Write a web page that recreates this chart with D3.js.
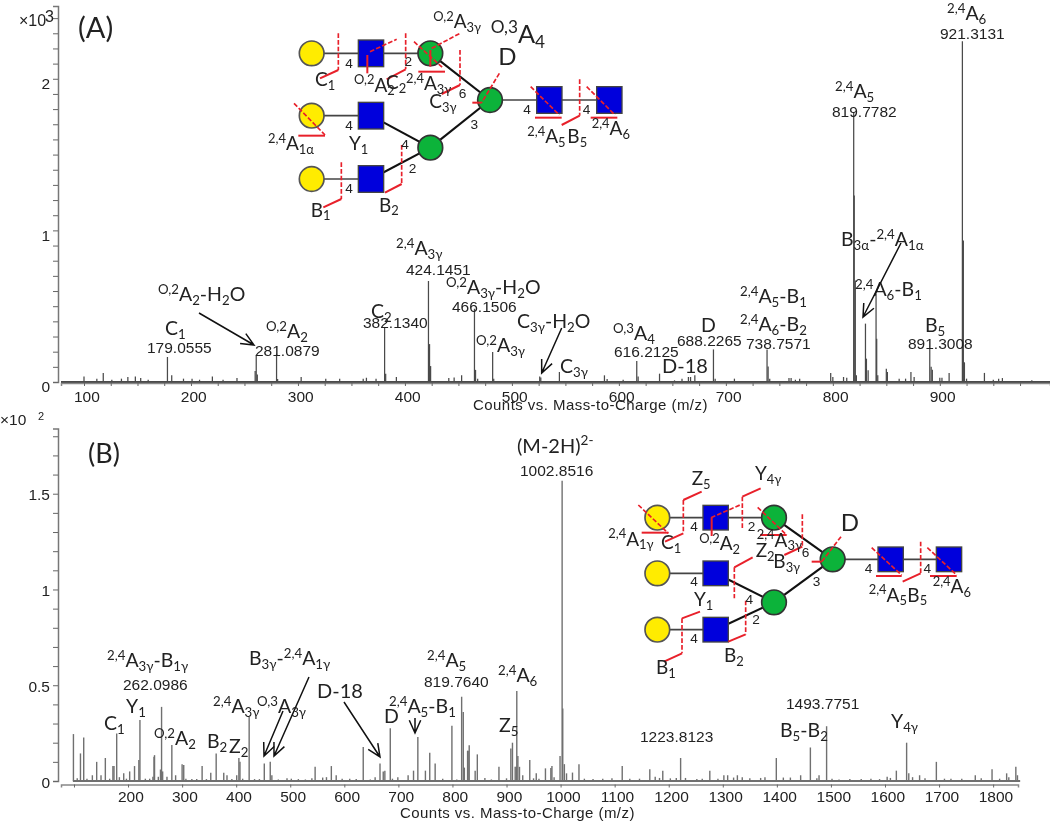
<!DOCTYPE html>
<html><head><meta charset="utf-8">
<script src="https://cdn.jsdelivr.net/npm/d3@7/dist/d3.min.js"></script>
<style>
html,body{margin:0;padding:0;background:#fff;}
svg{display:block;filter:blur(0.55px);}
text{font-family:"Liberation Sans",Arial,sans-serif;fill:#222;}
</style></head><body>
<svg id="c" width="1050" height="822"></svg>
<script>
// ---------- Panel A data: [m/z, counts x10^3] ----------
const peaksA = [[100,.037],[112,.022],[118,.06],[126,.015],[135,.022],[141,.033],[148,.037],[153,.026],[160,.015],
[178,.165],[182,.044],[193,.022],[201,.022],[208,.015],[220,.037],[230,.015],[243,.026],
[260,.072],[261,.176],[262,.05],[280,.187],[281,.02],[303,.033],[326,.022],[339,.022],[361,.022],[364,.028],
[373,.022],[381,.363],[382,.055],[392,.033],[422,.666],[423,.25],[424,.105],[441,.026],[446,.03],[453,.044],
[465,.483],[466,.08],[468,.022],[482,.198],[483,.022],[526,.037],[527,.03],[544.4,.066],[586.5,.044],[589,.02],[604,.015],
[616.7,.138],[618,.037],[638,.055],[652,.011],[659,.022],[665,.033],[667,.033],[671,.044],[688.4,.215],[690,.022],[708,.022],
[738.5,.215],[739.5,.103],[741,.022],[759,.026],[761,.026],[765,.015],[769,.022],[798,.06],[800,.033],[810,.033],[813,.028],
[819.5,1.774],[820,1.23],[821,.67],[822,.044],[830.5,.385],[831.4,.154],[833,.077],[840.4,.582],[841,.286],[842,.044],
[850,.088],[851,.066],[862,.022],[868,.022],[873,.066],[876,.033],[890.6,.22],[891.9,.1],[893,.08],[900,.028],[902,.028],
[908.7,.06],[921.1,2.248],[922,.934],[923,.13],[925,.022],[941.7,.06],[950,.015],[955,.022],[958.5,.026],[986,.011]];
const yTicksA = d3.range(0,2.41,0.1).map(v=>+v.toFixed(1));
const yLabelsA = [0,1,2];
const xTicksA = d3.range(100,976,25);
const xLabelsA = [100,200,300,400,500,600,700,800,900];

// ---------- Panel B data: [m/z, counts x10^2] ----------
const peaksB = [[99,.245],[106,.014],[112,.144],[118,.227],[124,.012],[134,.03],[142,.10],[150,.03],[158,.12],[166,.012],
[172,.078],[174,.078],[179,.248],[184,.02],[192,.04],[197,.012],[203,.05],[212,.078],[220,.11],[222,.318],[232,.012],[240,.012],
[246,.022],[248,.127],[249,.135],[256,.022],[260,.06],[262,.387],[264,.05],[272,.022],[281,.188],[288,.03],[300,.087],[303,.083],[307,.012],
[318,.01],[327,.01],[337,.078],[345,.01],[353,.043],[363,.144],[377,.043],[383,.03],[392,.01],[401,.03],[405,.12],[407,.10],
[412,.012],[424,.335],[434,.01],[443,.01],[452,.092],[463,.10],[466,.03],[478,.008],[494,.015],[502,.012],[515,.01],[528,.008],
[540,.014],[546,.075],[560,.018],[567,.02],[576,.078],[585,.03],[596,.012],[610,.012],[622,.01],[635,.178],[648,.008],[657,.02],
[666,.092],[672,.05],[675,.053],[689,.012],[685,.275],[699,.02],[718,.03],[728,.054],[736,.23],[750,.054],[758,.148],[768,.092],
[782,.012],[799,.288],[808,.008],[817,.44],[820,.36],[822,.07],[828,.158],[829,.158],[831,.187],[842,.054],[846,.139],[860,.016],[872,.008],
[886,.075],[900,.014],[908,.17],[911,.2],[916,.074],[918,.074],[919,.47],[921,.13],[924,.074],[930,.03],[943,.11],[950,.014],[955,.04],
[960,.012],[972,.066],[982,.068],[984,.078],[988,.02],[999,.13],[1002.85,1.568],[1004,.378],[1007,.088],[1011,.04],[1022,.044],[1034,.088],
[1044,.012],[1060,.01],[1078,.012],[1095,.014],[1114,.078],[1128,.012],[1146,.012],[1165,.062],[1175,.022],[1183,.016],[1189,.054],[1203,.014],
[1214,.016],[1222,.12],[1231,.016],[1252,.01],[1262,.012],[1276,.054],[1291,.012],[1302,.03],[1309,.03],[1320,.018],[1327,.03],[1336,.02],
[1350,.014],[1370,.016],[1378,.02],[1399,.12],[1412,.018],[1425,.018],[1444,.03],[1462,.175],[1474,.014],[1478,.03],[1492,.286],[1502,.012],
[1515,.008],[1535,.01],[1556,.01],[1574,.012],[1590,.01],[1604,.022],[1610,.016],[1621,.054],[1640,.2],[1644,.04],[1651,.02],[1664,.03],
[1674,.014],[1695,.10],[1710,.012],[1722,.012],[1742,.012],[1767,.03],[1778,.014],[1798,.062],[1812,.012],[1825,.04],[1829,.02],[1842,.075],[1845,.03]];
const yTicksB = d3.range(0,1.81,0.1).map(v=>+v.toFixed(1));
const yLabelsB = [0,0.5,1,1.5];
const xTicksB = d3.range(100,1801,100);
const xLabelsB = d3.range(200,1801,100);

const svg = d3.select('#c');

// Rich label: parts are strings, or ['s',text] superscript / ['b',text] subscript
function rich(parent,x,y,parts,size,family){
  const t = parent.append('text').attr('x',x).attr('y',y).attr('font-size',size);
  if(family) t.style('font-family',family);
  let prev = 0;
  parts.forEach(p=>{
    const kind = Array.isArray(p)?p[0]:'n', str = Array.isArray(p)?p[1]:p;
    const off = kind==='s'?-size*0.38:kind==='b'?size*0.2:0;
    t.append('tspan').attr('dy',off-prev).attr('font-size',kind==='n'?size:size*0.68).text(str);
    prev = off;
  });
  return t;
}
const S=s=>['s',s], B=s=>['b',s];
const LATO='Lato,"Open Sans",sans-serif';

function arrow(g,x0,y0,x1,y1){
  const a=Math.atan2(y1-y0,x1-x0), L=14, sp=0.42;
  g.append('path').attr('fill','none').attr('stroke','#111').attr('stroke-width',1.5)
   .attr('d',`M${x0},${y0}L${x1},${y1}M${x1-L*Math.cos(a-sp)},${y1-L*Math.sin(a-sp)}L${x1},${y1}L${x1-L*Math.cos(a+sp)},${y1-L*Math.sin(a+sp)}`);
}

function panel(o){
  const g = svg.append('g');
  const x = d3.scaleLinear().domain(o.xd).range(o.xr);
  const y = d3.scaleLinear().domain(o.yd).range(o.yr);
  g.append('line').attr('x1',x(o.base[0])).attr('x2',x(o.base[1])).attr('y1',y(0)).attr('y2',y(0))
   .attr('stroke',o.col).attr('stroke-width',o.bw);
  g.append('g').selectAll('line').data(o.peaks).join('line')
   .attr('x1',d=>x(d[0])).attr('x2',d=>x(d[0])).attr('y1',y(0)).attr('y2',d=>y(d[1]))
   .attr('stroke',o.col).attr('stroke-width',o.pw);
  const ya = g.append('g').attr('transform',`translate(${o.yx},0)`)
    .call(d3.axisLeft(y).tickValues(o.yt).tickSize(5).tickFormat(d=>o.yl.includes(d)?String(d):''));
  ya.select('.domain').attr('stroke','#777').attr('stroke-width',1.5);
  ya.selectAll('.tick line').attr('stroke','#666').attr('stroke-width',1);
  ya.selectAll('.tick text').attr('font-size',15.5).attr('dy',o.ydy).attr('x',-o.ylab).attr('fill','#222');
  const xa = g.append('g').attr('transform',`translate(0,${o.xy})`)
    .call(d3.axisBottom(x).tickValues(o.xt).tickSize(3).tickFormat(d=>o.xl.includes(d)?String(d):''));
  xa.select('.domain').attr('stroke','#888').attr('stroke-width',1.5);
  xa.selectAll('.tick line').attr('stroke','#666');
  xa.selectAll('.tick text').attr('font-size',15.5).attr('y',o.xlab).attr('dx','0.15em').attr('fill','#222');
  g.append('text').attr('x',o.tx).attr('y',o.ty).attr('font-size',15).attr('letter-spacing','0.45').attr('fill','#222')
   .text('Counts vs. Mass-to-Charge (m/z)');
}

panel({peaks:peaksA,col:'#4a4a4a',pw:1.25,bw:2.2,xd:[78.5,1003],xr:[61,1050],yd:[0,2.48],yr:[382,6],base:[78.5,1003],
  yx:58,yt:yTicksA,yl:yLabelsA,ylab:8,ydy:'0.62em',xy:383,xt:xTicksA,xl:xLabelsA,xlab:8,tx:473,ty:410});
panel({peaks:peaksB,col:'#707070',pw:1.4,bw:1.8,xd:[76,1846],xr:[61,1018],yd:[0,1.84],yr:[781,428.6],base:[98,1850],
  yx:58,yt:yTicksB,yl:yLabelsB,ylab:8,ydy:'0.4em',xy:784.5,xt:xTicksB,xl:xLabelsB,xlab:6,tx:400,ty:818});

const ann = svg.append('g');
ann.append('text').attr('x',19).attr('y',26).attr('font-size',16).text('×10');
ann.append('text').attr('x',45).attr('y',22).attr('font-size',16).text('3');
ann.append('text').attr('x',0).attr('y',425).attr('font-size',15.5).text('×10');
ann.append('text').attr('x',38).attr('y',420).attr('font-size',11).text('2');

const num = (t,x,y)=>ann.append('text').attr('x',x).attr('y',y).attr('font-size',15.5).attr('fill','#222').text(t);
[['179.0555',147,353],['281.0879',255,356],['382.1340',363,328],['424.1451',406,275],['466.1506',452,312],
 ['616.2125',614,357],['688.2265',677,346],['738.7571',746,349],['891.3008',908,349],['819.7782',832,117],['921.3131',940,39],
 ['262.0986',123,690],['819.7640',424,687],['1002.8516',520,476],['1223.8123',640,742],['1493.7751',786,709]]
 .forEach(d=>num(...d));

const L=(x,y,parts,size=19.5)=>rich(ann,x,y,parts,size,LATO);
L(78,38,['(A)'],29);
L(158,301,[S('O,2'),'A',B('2'),'-H',B('2'),'O']);
L(165,335,['C',B('1')]);
L(266,338,[S('O,2'),'A',B('2')]);
L(371,318,['C',B('2')]);
L(396,255,[S('2,4'),'A',B('3γ')]);
L(446,294,[S('O,2'),'A',B('3γ'),'-H',B('2'),'O']);
L(476,352,[S('O,2'),'A',B('3γ')]);
L(517,328,['C',B('3γ'),'-H',B('2'),'O']);
L(560,373,['C',B('3γ')]);
L(613,340,[S('O,3'),'A',B('4')]);
L(662,373,['D-18'],20);
L(701,332,['D']);
L(740,303,[S('2,4'),'A',B('5'),'-B',B('1')]);
L(740,331,[S('2,4'),'A',B('6'),'-B',B('2')]);
L(841,246,['B',B('3α'),'-',S('2,4'),'A',B('1α')]);
L(855,296,[S('2,4'),'A',B('6'),'-B',B('1')]);
L(925,332,['B',B('5')]);
L(835,98,[S('2,4'),'A',B('5')]);
L(947,20,[S('2,4'),'A',B('6')]);

L(88,463,['(B)'],27);
L(107,667,[S('2,4'),'A',B('3γ'),'-B',B('1γ')]);
L(126,713,['Y',B('1')]);
L(104,730,['C',B('1')]);
L(154,745,[S('O,2'),'A',B('2')]);
L(207,748,['B',B('2')]);
L(229,753,['Z',B('2')]);
L(213,713,[S('2,4'),'A',B('3γ')]);
L(257,713,[S('O,3'),'A',B('3γ')]);
L(249,665,['B',B('3γ'),'-',S('2,4'),'A',B('1γ')]);
L(317,698,['D-18'],20);
L(384,723,['D']);
L(389,713,[S('2,4'),'A',B('5'),'-B',B('1')]);
L(427,667,[S('2,4'),'A',B('5')]);
L(498,682,[S('2,4'),'A',B('6')]);
L(499,732,['Z',B('5')]);
L(517,453,['(M-2H)',S('2-')],20);
L(780,737,['B',B('5'),'-B',B('2')]);
L(891,728,['Y',B('4γ')]);

arrow(ann,199,313,254,345);
arrow(ann,561.7,328,541.7,373);
arrow(ann,901,243,863,317);
arrow(ann,309,677,274,756);
arrow(ann,283,711,264,756);
arrow(ann,344,702,380,757);
arrow(ann,415,718,415,733);

function glycan(ox,oy,d){
  const g = svg.append('g').attr('transform',`translate(${ox},${oy}) scale(${1/3})`);
  const line=(a,col,w,dash)=>g.append('line').attr('x1',a[0]).attr('y1',a[1]).attr('x2',a[2]).attr('y2',a[3])
     .attr('stroke',col).attr('stroke-width',w).attr('stroke-dasharray',dash||null);
  d.thin.forEach(a=>line(a,'#444',5));
  d.thick.forEach(a=>line(a,'#111',6.5));
  d.yellow.forEach(c=>g.append('circle').attr('cx',c[0]).attr('cy',c[1]).attr('r',37).attr('fill','#ffec00').attr('stroke','#555').attr('stroke-width',5));
  d.green.forEach(c=>g.append('circle').attr('cx',c[0]).attr('cy',c[1]).attr('r',37).attr('fill','#0cb33a').attr('stroke','#333').attr('stroke-width',5));
  d.blue.forEach(c=>g.append('rect').attr('x',c[0]-38).attr('y',c[1]-d.h/2).attr('width',76).attr('height',d.h).attr('fill','#0000dc').attr('stroke','#444').attr('stroke-width',4));
  d.dash.forEach(a=>line(a,'#e8202a',5,'14 6'));
  d.solid.forEach(a=>line(a,'#e8202a',6));
  d.nums.forEach(n=>g.append('text').attr('x',n[1]).attr('y',n[2]).attr('text-anchor','middle').attr('font-size',41).attr('fill','#333').text(n[0]));
  d.text.forEach(t=>rich(g,t[0],t[1],t[2],t[3]||57,LATO));
}
glycan(280,0,{h:80,
  yellow:[[95,160],[95,347],[95,537]],
  green:[[451,160],[451,443],[630,300]],
  blue:[[273,160],[273,347],[273,537],[808,300],[988,300]],
  thin:[[95,160,451,160],[95,347,273,347],[95,537,273,537],[630,300,988,300]],
  thick:[[451,160,630,300],[273,347,451,443],[273,537,451,443],[451,443,630,300]],
  dash:[[175,100,175,210],[270,155,350,118],[377,100,377,208],[455,145,540,100],[402,125,490,205],[540,150,540,255],[658,220,605,308],
        [42,310,135,405],[184,487,184,597],[365,435,365,552],[752,260,838,345],[899,238,899,347],[920,260,1005,345]],
  solid:[[175,210,120,235],[262,165,262,220],[377,208,320,238],[451,150,451,200],[415,215,495,215],[540,255,485,282],[605,308,577,308],
        [55,407,135,407],[184,597,130,622],[365,552,315,578],[765,353,845,353],[899,347,845,375],[932,353,1012,353]],
  nums:[['4',207,203],['4',207,390],['4',207,580],['2',385,198],['6',548,293],['3',583,386],['4',375,448],['2',398,518],['4',741,343],['4',920,343]],
  text:[[105,258,['C',B('1')]],[222,275,[S('O,2'),'A',B('2')]],[318,268,['C',B('2')]],[378,270,[S('2,4'),'A',B('3γ')]],
        [448,325,['C',B('3γ')]],[460,85,[S('O,2'),'A',B('3γ')]],[632,128,[S('O,3'),'A',B('4')],76],[655,195,['D'],72],
        [-36,450,[S('2,4'),'A',B('1α')]],[207,450,['Y',B('1')]],[92,650,['B',B('1')]],[297,635,['B',B('2')]],
        [742,430,[S('2,4'),'A',B('5')]],[862,430,['B',B('5')]],[935,405,[S('2,4'),'A',B('6')]]]
});
glycan(590,480,{h:74,
  yellow:[[202,113],[202,280],[202,449]],
  green:[[552,113],[552,367],[728,238]],
  blue:[[377,113],[377,280],[377,449],[902,238],[1077,238]],
  thin:[[202,113,552,113],[202,280,377,280],[202,449,377,449],[728,238,1077,238]],
  thick:[[552,113,728,238],[377,280,552,367],[377,449,552,367],[552,367,728,238]],
  dash:[[145,75,235,160],[280,60,280,160],[363,113,450,75],[457,50,457,150],[503,82,590,165],[637,103,637,200],[753,170,695,245],
        [433,262,433,355],[276,415,276,520],[467,362,467,463],[845,203,935,285],[992,185,992,280],[1012,203,1100,285]],
  solid:[[155,158,235,158],[280,160,225,185],[280,60,335,35],[365,113,365,168],[457,50,512,25],[510,165,590,165],[637,200,583,225],
        [695,245,665,245],[433,262,488,232],[276,415,330,395],[276,520,222,545],[467,463,415,485],[858,288,935,288],[992,280,938,305],[1020,288,1100,288]],
  nums:[['4',312,153],['2',485,153],['6',647,230],['3',680,318],['4',312,318],['4',478,373],['2',498,431],['4',312,488],['4',836,278],['4',1012,278]],
  text:[[55,197,[S('2,4'),'A',B('1γ')]],[213,208,['C',B('1')]],[328,210,[S('O,2'),'A',B('2')]],[500,200,[S('2,4'),'A',B('3γ')]],
        [497,232,['Z',B('2')]],[550,265,['B',B('3γ')]],[752,152,['D'],72],[312,378,['Y',B('1')]],[198,582,['B',B('1')]],
        [402,547,['B',B('2')]],[836,365,[S('2,4'),'A',B('5')]],[952,365,['B',B('5')]],[1028,340,[S('2,4'),'A',B('6')]],
        [305,15,['Z',B('5')]],[495,0,['Y',B('4γ')]]]
});
</script>
</body></html>
